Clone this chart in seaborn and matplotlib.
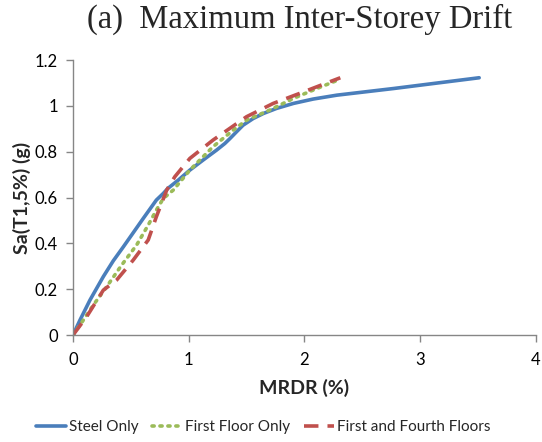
import matplotlib
matplotlib.use("Agg")
import matplotlib.pyplot as plt
import seaborn as sns
import pandas as pd

steel_x = [0, 0.060, 0.147, 0.262, 0.348, 0.435, 0.521, 0.607, 0.665, 0.72, 0.780, 0.82, 0.909, 1.01,
           1.125, 1.24, 1.312, 1.357, 1.413, 1.47, 1.557, 1.645, 1.758, 1.905, 2.075, 2.28, 2.77, 3.51]
steel_y = [0, 0.065, 0.153, 0.255, 0.324, 0.385, 0.447, 0.509, 0.550, 0.589, 0.618, 0.64, 0.676, 0.72,
           0.764, 0.807, 0.836, 0.858, 0.887, 0.916, 0.945, 0.967, 0.989, 1.011, 1.030, 1.047, 1.076, 1.123]
first_x = [0, 0.089, 0.176, 0.291, 0.42, 0.55, 0.65, 0.72, 0.78, 0.867, 1.01, 1.21, 1.386, 1.50, 1.70, 1.905, 2.107, 2.31]
first_y = [0, 0.065, 0.131, 0.211, 0.305, 0.393, 0.48, 0.545, 0.596, 0.633, 0.72, 0.822, 0.895, 0.938, 0.982, 1.033, 1.076, 1.117]
ff_x = [0, 0.118, 0.262, 0.377, 0.52, 0.65, 0.72, 0.81, 0.88, 1.01, 1.21, 1.50, 1.73, 1.96, 2.16, 2.31]
ff_y = [0, 0.08, 0.196, 0.24, 0.327, 0.415, 0.516, 0.633, 0.691, 0.771, 0.851, 0.953, 1.011, 1.055, 1.094, 1.123]
series = ["Steel Only", "First Floor Only", "First and Fourth Floors"]
colors = ["#4A7EBB", "#9BBB59", "#C0504D"]
x_ticks = [0, 1, 2, 3, 4]
x_ticklabels = ["0", "1", "2", "3", "4"]
y_ticks = [0, 0.2, 0.4, 0.6, 0.8, 1.0, 1.2]
y_ticklabels = ["0", "0.2", "0.4", "0.6", "0.8", "1", "1.2"]

rows = []
for name, xs, ys in zip(series, [steel_x, first_x, ff_x], [steel_y, first_y, ff_y]):
    for i, (a, b) in enumerate(zip(xs, ys)):
        rows.append({"MRDR": a, "Sa": b, "Series": name, "order": i})
df = pd.DataFrame(rows)

sns.set_style("white")
plt.rcParams['font.family'] = ['Lato', 'DejaVu Sans']

fig = plt.figure(figsize=(5.42, 4.42), dpi=100)
ax = fig.add_axes([0.1347, 0.242, 0.854, 0.622])

styles = {"Steel Only": dict(lw=2.6, ls='-', solid_joinstyle='round', solid_capstyle='round'),
          "First Floor Only": dict(lw=2.6, ls=(0, (0.6, 1.6)), dash_capstyle='round'),
          "First and Fourth Floors": dict(lw=2.6, ls=(0, (4, 2.5)))}
for name, c in zip(series, colors):
    sub = df[df.Series == name]
    sns.lineplot(data=sub, x="MRDR", y="Sa", sort=False, estimator=None, ax=ax,
                 color=c, label=name, **styles[name])

ax.set_xlim(0, 4)
ax.set_ylim(0, 1.2)
ax.set_xticks(x_ticks)
ax.set_xticklabels(x_ticklabels)
ax.set_yticks(y_ticks)
ax.set_yticklabels(y_ticklabels)
for s in ["top", "right"]:
    ax.spines[s].set_visible(False)
for s in ["left", "bottom"]:
    ax.spines[s].set_color("#868686")
    ax.spines[s].set_linewidth(1.0)
ax.tick_params(axis='both', direction='out', length=5, width=1, color="#868686",
               labelsize=12, labelcolor="#000000", left=True, bottom=True)
ax.tick_params(axis='x', pad=7)
ax.tick_params(axis='y', pad=6)
ax.set_xlabel("MRDR (%)", fontsize=14, fontweight='bold', labelpad=8)
ax.set_ylabel("Sa(T1,5%) (g)", fontsize=14, fontweight='bold', labelpad=2.5)

fig.text(0.553, 0.957, "(a)  Maximum Inter-Storey Drift", ha='center', va='center',
         fontsize=23.5, family='Liberation Serif')

leg = ax.legend(loc='center', bbox_to_anchor=(0.485, 0.034), bbox_transform=fig.transFigure,
                ncol=3, frameon=False, fontsize=11, handlelength=2.0, columnspacing=0.9,
                handletextpad=0.15)

fig.savefig("out.png", dpi=100)
